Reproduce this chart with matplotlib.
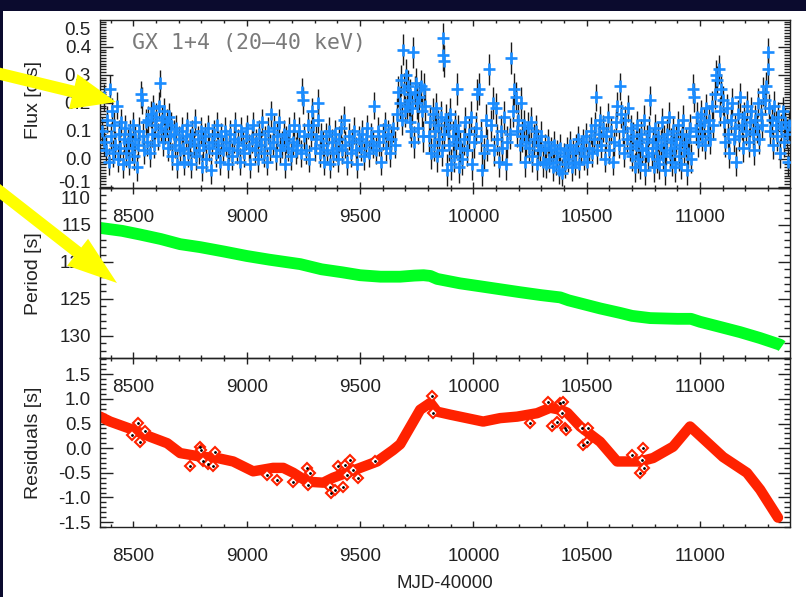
import matplotlib
matplotlib.use("Agg")
import matplotlib.pyplot as plt
import numpy as np
from matplotlib.patches import Polygon, Rectangle
from matplotlib.ticker import MultipleLocator, FixedLocator, FixedFormatter, FormatStrFormatter

plt.rcParams['font.family'] = ['Liberation Sans', 'DejaVu Sans']
plt.rcParams['axes.unicode_minus'] = False

# ---------------- data ----------------
segA_mjd = [8362, 8368, 8372, 8378, 8384, 8390, 8395, 8400, 8405, 8410, 8415, 8420, 8426, 8431, 8436, 8442, 8447, 8452, 8458, 8463, 8468, 8474, 8480, 8486, 8492, 8498, 8503, 8508, 8514, 8520, 8526, 8531, 8536, 8542, 8548, 8554, 8560]
segA_flux = [0.10, 0.06, 0.22, 0.03, 0.14, -0.01, 0.25, 0.08, 0.17, 0.02, 0.12, 0.05, 0.19, 0.00, 0.09, 0.04, 0.13, -0.02, 0.07, 0.11, 0.02, 0.06, -0.01, 0.09, 0.04, 0.12, 0.01, 0.07, -0.03, 0.05, 0.10, 0.23, 0.21, 0.08, 0.03, 0.13, 0.06]
segB_mjd = [8566, 8571, 8576, 8581, 8586, 8591, 8596, 8601, 8606, 8611, 8616, 8621, 8626, 8631, 8636, 8641, 8646, 8651, 8656, 8661, 8666, 8672, 8677, 8683, 8688, 8694, 8700, 8706]
segB_flux = [0.14, 0.02, 0.16, 0.09, 0.18, 0.05, 0.12, 0.15, 0.08, 0.19, 0.27, 0.11, 0.14, 0.06, 0.17, 0.10, 0.13, 0.04, 0.15, 0.08, 0.12, 0.01, 0.09, 0.05, 0.11, -0.02, 0.07, 0.03]
segC_mjd = [8712, 8718, 8724, 8730, 8736, 8742, 8748, 8754, 8760, 8766, 8772, 8778, 8784, 8790, 8796, 8802, 8808, 8815, 8822, 8828, 8835, 8842, 8848, 8855, 8862, 8868, 8875, 8882, 8888, 8895, 8902, 8908, 8915, 8922, 8928, 8935, 8942, 8948, 8955, 8962, 8968, 8975, 8982, 8988, 8995, 9002, 9008, 9015, 9022, 9028, 9035, 9042, 9048, 9055, 9062, 9068, 9075, 9082, 9088, 9095, 9102, 9108, 9115, 9122, 9128, 9135, 9142, 9148, 9155, 9162, 9168, 9175, 9182, 9188, 9195, 9202, 9208, 9215]
segC_flux = [0.10, 0.04, -0.01, 0.08, 0.12, 0.02, 0.06, -0.02, 0.09, 0.05, 0.13, 0.01, 0.07, 0.03, 0.10, -0.03, 0.05, 0.08, 0.00, 0.11, 0.04, -0.04, 0.06, 0.09, 0.02, 0.12, 0.05, -0.01, 0.08, 0.03, 0.10, 0.06, -0.02, 0.04, 0.09, 0.01, 0.07, 0.12, 0.03, 0.06, -0.01, 0.10, 0.05, 0.02, 0.08, 0.11, 0.04, -0.02, 0.07, 0.12, 0.03, 0.06, 0.00, 0.09, 0.05, 0.13, 0.02, 0.07, -0.01, 0.10, 0.04, 0.16, 0.06, 0.11, 0.01, 0.08, 0.13, 0.03, 0.05, 0.09, -0.02, 0.07, 0.04, 0.10, 0.01, 0.06, 0.12, 0.03]
segD_mjd = [9222, 9230, 9238, 9245, 9247, 9254, 9261, 9268, 9275, 9282, 9288, 9293, 9300, 9307, 9313, 9316, 9322, 9328]
segD_flux = [0.05, 0.10, 0.02, 0.24, 0.21, 0.08, 0.03, 0.12, 0.00, 0.09, 0.17, 0.12, 0.04, 0.07, 0.20, 0.14, 0.02, 0.08]
segE_mjd = [9335, 9342, 9348, 9355, 9362, 9368, 9375, 9382, 9388, 9395, 9402, 9408, 9415, 9422, 9428, 9435, 9442, 9450, 9458, 9465, 9472, 9480, 9488, 9495, 9502, 9510, 9518, 9525, 9532, 9540, 9548, 9555, 9562, 9570, 9578, 9585, 9592, 9600, 9608, 9615, 9622, 9630, 9638, 9645, 9652]
segE_flux = [0.05, -0.01, 0.08, 0.03, 0.10, -0.02, 0.06, 0.02, 0.09, 0.04, 0.00, 0.07, 0.11, 0.03, 0.14, 0.05, -0.01, 0.08, 0.02, 0.06, 0.10, 0.03, -0.02, 0.07, 0.04, 0.09, 0.01, 0.06, 0.11, 0.02, 0.08, 0.05, 0.19, 0.03, 0.10, 0.06, -0.01, 0.08, 0.12, 0.04, 0.09, 0.02, 0.07, 0.11, 0.05]
segF_mjd = [9662, 9668, 9674, 9680, 9686, 9690, 9694, 9698, 9702, 9706, 9710, 9714, 9718, 9722, 9726, 9730, 9734, 9738, 9742, 9747, 9752, 9757, 9762, 9767, 9772, 9777, 9782, 9787]
segF_flux = [0.16, 0.24, 0.20, 0.28, 0.14, 0.39, 0.25, 0.17, 0.30, 0.19, 0.26, 0.21, 0.13, 0.23, 0.10, 0.18, 0.38, 0.06, 0.24, 0.27, 0.20, 0.11, 0.22, 0.26, 0.17, 0.08, 0.25, 0.19]
segG_mjd = [9805, 9810, 9815, 9820, 9825, 9830, 9835, 9840, 9845, 9850, 9855, 9860, 9864, 9866, 9868, 9872, 9877, 9882, 9887, 9892, 9897, 9902, 9908, 9913, 9918, 9923, 9928, 9933, 9938, 9943]
segG_flux = [0.08, 0.13, 0.02, 0.16, 0.05, 0.10, 0.18, 0.01, 0.12, 0.07, 0.15, 0.03, 0.43, 0.37, 0.35, 0.09, 0.14, -0.04, 0.11, 0.05, 0.16, -0.02, 0.08, 0.01, 0.12, 0.06, 0.25, 0.10, -0.03, 0.04]
segH_mjd = [9950, 9958, 9965, 9972, 9980, 9988, 9995, 10002, 10010, 10018, 10025, 10032, 10038, 10045, 10055, 10062, 10070, 10078, 10085, 10092, 10098, 10105, 10112, 10120, 10127, 10134, 10142, 10149]
segH_flux = [0.00, 0.07, 0.13, 0.03, 0.09, 0.15, -0.02, 0.06, 0.11, 0.23, 0.25, 0.08, -0.04, 0.02, 0.14, 0.05, 0.32, 0.12, 0.20, 0.03, 0.18, 0.07, -0.01, 0.10, 0.04, 0.15, -0.02, 0.06]
segI_mjd = [10160, 10167, 10174, 10180, 10186, 10192, 10198, 10204, 10210, 10216, 10222, 10228, 10234, 10240, 10247, 10254, 10260, 10267, 10274, 10280, 10287, 10294, 10300, 10307]
segI_flux = [0.09, 0.36, 0.17, 0.25, 0.22, 0.10, 0.14, 0.05, 0.20, 0.08, 0.12, -0.01, 0.06, 0.11, 0.04, 0.13, 0.01, 0.07, 0.10, -0.02, 0.05, 0.03, 0.08, -0.01]
segJ_mjd = [10314, 10321, 10328, 10335, 10342, 10349, 10356, 10363, 10370, 10377, 10384, 10391, 10398, 10405, 10412, 10419, 10426, 10433, 10440, 10447, 10454, 10461, 10468, 10475, 10482, 10489, 10496, 10503, 10510, 10517, 10524, 10531, 10538, 10541, 10545, 10552]
segJ_flux = [0.04, -0.02, 0.06, 0.00, 0.03, -0.03, 0.05, -0.01, 0.02, -0.04, 0.04, -0.05, 0.01, -0.02, 0.03, 0.00, 0.05, -0.03, 0.02, -0.01, 0.04, 0.07, -0.02, 0.03, 0.06, 0.01, 0.08, -0.01, 0.04, 0.10, 0.02, 0.07, 0.12, 0.22, 0.03, 0.09]
segK_mjd = [10558, 10565, 10572, 10579, 10586, 10593, 10600, 10607, 10614, 10621, 10628, 10635, 10641, 10647, 10653, 10659, 10665, 10671, 10677, 10683, 10689, 10695]
segK_flux = [0.14, 0.05, 0.11, 0.00, 0.08, 0.15, 0.03, 0.10, -0.01, 0.06, 0.13, 0.19, 0.05, 0.26, 0.16, 0.10, 0.02, 0.14, 0.07, 0.18, 0.04, 0.11]
segL_mjd = [10701, 10706, 10711, 10716, 10721, 10726, 10731, 10736, 10741, 10746, 10751, 10756, 10761, 10766, 10771, 10776, 10781, 10786, 10791, 10796, 10801, 10806, 10811, 10816, 10821, 10826, 10831, 10836, 10841, 10846, 10851, 10856, 10861, 10866, 10871, 10876, 10881, 10886, 10891, 10896, 10901, 10906, 10911, 10916, 10921, 10926, 10931, 10936, 10941, 10946, 10951, 10956, 10961]
segL_flux = [0.01, 0.08, -0.03, 0.05, 0.12, 0.00, 0.06, -0.02, 0.09, 0.03, 0.14, -0.04, 0.04, 0.07, 0.01, 0.10, 0.21, 0.02, 0.06, -0.03, 0.11, 0.04, 0.00, 0.08, -0.02, 0.05, 0.13, 0.01, 0.07, -0.04, 0.03, 0.09, 0.15, 0.02, 0.06, -0.01, 0.10, 0.04, -0.03, 0.07, 0.12, 0.01, 0.05, -0.02, 0.09, 0.14, 0.03, 0.06, -0.04, 0.02, 0.08, 0.11, 0.00]
segM_mjd = [10968, 10974, 10980, 10986, 10992, 10998, 11004, 11010, 11016, 11022, 11028, 11034, 11040, 11046, 11052, 11058, 11064, 11070, 11076, 11082, 11088, 11094, 11100]
segM_flux = [0.25, 0.22, 0.10, 0.15, 0.06, 0.12, 0.16, 0.08, 0.13, 0.05, 0.18, 0.10, 0.14, 0.07, 0.19, 0.12, 0.23, 0.30, 0.28, 0.32, 0.17, 0.25, 0.21]
segN_mjd = [11106, 11112, 11118, 11124, 11130, 11136, 11142, 11148, 11154, 11160, 11166, 11172, 11178, 11184, 11190, 11196, 11202, 11208, 11214, 11220, 11226, 11232, 11238, 11244, 11250, 11256, 11262, 11268, 11274, 11280, 11286, 11292, 11298, 11302, 11306, 11310]
segN_flux = [0.13, 0.06, 0.18, 0.09, 0.02, 0.14, 0.20, 0.07, 0.11, -0.01, 0.16, 0.08, 0.22, 0.12, 0.04, 0.15, 0.10, 0.19, 0.06, 0.13, 0.17, 0.09, 0.03, 0.14, 0.11, 0.20, 0.07, 0.16, 0.12, 0.24, 0.21, 0.26, 0.38, 0.32, 0.18, 0.10]
segO_mjd = [11316, 11322, 11328, 11334, 11340, 11346, 11352, 11358, 11364, 11370, 11376, 11382, 11388, 11393]
segO_flux = [0.14, 0.05, 0.19, 0.12, 0.08, 0.15, 0.02, 0.11, 0.17, 0.06, 0.13, 0.09, -0.01, 0.12]

# flux uncertainty per epoch range
err_edges = [8350, 9660, 10310, 10700, 11400]
err_vals = [0.048, 0.056, 0.048, 0.052]

# spin period [s]
per_mjd = [8353, 8450, 8530, 8620, 8706, 8794, 8900, 9000, 9100, 9236, 9330, 9420, 9500, 9590, 9677, 9740, 9780, 9810, 9840, 9941, 10030, 10118, 10206, 10300, 10383, 10420, 10471, 10560, 10647, 10700, 10780, 10900, 10960, 11000, 11089, 11177, 11265, 11353, 11362]
per_val = [115.4, 115.8, 116.3, 116.9, 117.6, 118.0, 118.6, 119.2, 119.7, 120.3, 121.0, 121.4, 121.8, 122.0, 122.0, 121.85, 121.8, 121.9, 122.3, 122.9, 123.3, 123.7, 124.1, 124.5, 124.8, 125.2, 125.6, 126.3, 126.9, 127.3, 127.6, 127.7, 127.7, 128.1, 128.8, 129.5, 130.3, 131.2, 131.4]

# residuals [s]
res_mjd = [8353, 8397, 8500, 8574, 8649, 8706, 8794, 8870, 8940, 9028, 9116, 9161, 9205, 9267, 9337, 9381, 9500, 9575, 9645, 9677, 9721, 9765, 9810, 9840, 9898, 10043, 10118, 10193, 10281, 10339, 10383, 10414, 10471, 10559, 10634, 10736, 10793, 10881, 10956, 11102, 11207, 11265, 11344]
res_val = [0.64, 0.54, 0.37, 0.23, 0.10, -0.10, -0.17, -0.20, -0.27, -0.47, -0.40, -0.40, -0.50, -0.68, -0.70, -0.60, -0.40, -0.27, -0.04, 0.08, 0.43, 0.78, 0.92, 0.74, 0.68, 0.54, 0.61, 0.64, 0.71, 0.82, 0.78, 0.72, 0.44, 0.13, -0.27, -0.27, -0.20, 0.03, 0.44, -0.18, -0.50, -0.84, -1.41]

# individual residual points (diamonds)
dia_mjd = [8494, 8521, 8530, 8552, 8750, 8794, 8796, 8808, 8830, 8852, 8861, 9090, 9134, 9205, 9267, 9271, 9280, 9368, 9370, 9390, 9403, 9425, 9434, 9443, 9456, 9470, 9492, 9567, 9818, 9823, 10251, 10331, 10348, 10370, 10383, 10392, 10396, 10405, 10410, 10480, 10485, 10502, 10507, 10701, 10736, 10745, 10749, 10752]
dia_val = [0.27, 0.51, 0.13, 0.34, -0.37, 0.03, -0.04, -0.27, -0.33, -0.37, -0.07, -0.54, -0.64, -0.68, -0.41, -0.75, -0.51, -0.78, -0.91, -0.85, -0.37, -0.78, -0.34, -0.54, -0.24, -0.44, -0.61, -0.27, 1.05, 0.71, 0.51, 0.93, 0.44, 0.54, 0.92, 0.72, 0.94, 0.40, 0.37, 0.40, 0.07, 0.13, 0.40, -0.14, -0.51, -0.24, 0.00, -0.41]

title_text = "GX 1+4 (20\u201340 keV)"
flux_label = "Flux [c/s]"
period_label = "Period [s]"
res_label = "Residuals [s]"
x_label = "MJD-40000"

# ---------------- assemble ----------------
segs_m = [segA_mjd, segB_mjd, segC_mjd, segD_mjd, segE_mjd, segF_mjd, segG_mjd, segH_mjd,
          segI_mjd, segJ_mjd, segK_mjd, segL_mjd, segM_mjd, segN_mjd, segO_mjd]
segs_f = [segA_flux, segB_flux, segC_flux, segD_flux, segE_flux, segF_flux, segG_flux, segH_flux,
          segI_flux, segJ_flux, segK_flux, segL_flux, segM_flux, segN_flux, segO_flux]
flux_mjd, flux_val = [], []
for m, f in zip(segs_m, segs_f):
    n = min(len(m), len(f))
    flux_mjd += m[:n]
    flux_val += f[:n]
flux_mjd = np.array(flux_mjd, float)
flux_val = np.array(flux_val, float)
idx = np.clip(np.searchsorted(err_edges, flux_mjd, side='right') - 1, 0, len(err_vals) - 1)
flux_err = np.array(err_vals)[idx]

# ---------------- figure ----------------
W, H = 806, 597
fig = plt.figure(figsize=(W / 100, H / 100), dpi=100, facecolor='#0b0b2e')
fig.add_artist(Rectangle((3 / W, 0), 1 - 3 / W, 1 - 11 / H, transform=fig.transFigure,
                         facecolor='white', edgecolor='none', zorder=-10))

L, R = 99.5 / W, 790 / W
def rect(top, bot):
    return [L, 1 - bot / H, R - L, (bot - top) / H]

ax1 = fig.add_axes(rect(20, 188))
ax2 = fig.add_axes(rect(188, 358))
ax3 = fig.add_axes(rect(358, 527))
axes = [ax1, ax2, ax3]

TXT = '#222222'
for ax in axes:
    ax.set_facecolor('none')
    ax.set_xlim(8350, 11397)
    ax.xaxis.set_major_locator(MultipleLocator(500))
    ax.xaxis.set_minor_locator(MultipleLocator(100))
    ax.tick_params(axis='x', which='both', direction='in', top=True, bottom=True,
                   labelsize=13.6, pad=15.3, colors='#222222', labelcolor=TXT, width=1.0)
    ax.tick_params(axis='x', which='major', length=4.5)
    ax.tick_params(axis='x', which='minor', length=2.5)
    ax.tick_params(axis='y', which='both', direction='in', left=True, right=True,
                   labelsize=13.6, pad=6.1, colors='#222222', labelcolor=TXT, width=1.0)
    ax.tick_params(axis='y', which='major', length=9)
    ax.tick_params(axis='y', which='minor', length=4.5)
    for s in ax.spines.values():
        s.set_linewidth(1.0)
        s.set_color('#222222')

# panel 1: flux
ax1.errorbar(flux_mjd, flux_val, yerr=flux_err, fmt='none', ecolor='#1a1a1a',
             elinewidth=1.0, zorder=2)
ax1.plot(flux_mjd, flux_val, '+', color='#1a8cff', ms=8, mew=1.9, zorder=3)
ax1.set_ylim(-0.104, 0.496)
ax1.yaxis.set_major_locator(FixedLocator([-0.1, 0.0, 0.1, 0.2, 0.3, 0.4, 0.5]))
ax1.yaxis.set_major_formatter(FixedFormatter(['', '0.0', '0.1', '0.2', '0.3', '0.4', '']))
ax1.yaxis.set_minor_locator(MultipleLocator(0.01))
ax1.tick_params(axis='y', which='minor', length=4)
yt = ax1.get_yaxis_transform()
ax1.text(-9 / 690.5, 0.457, '0.5', transform=yt, ha='right', va='center', fontsize=13.6, color=TXT)
ax1.text(-9 / 690.5, -0.089, '-0.1', transform=yt, ha='right', va='center', fontsize=13.6, color=TXT)
ax1.text((132 - 99.5) / 690.5, (188 - 43) / 168, title_text, transform=ax1.transAxes,
         ha='left', va='center', fontsize=15.5, color='#7a7a7a', family='DejaVu Sans Mono')

# panel 2: period
ax2.plot(per_mjd, per_val, color='#00ff22', lw=8.5, solid_capstyle='butt', zorder=2)
ax2.set_ylim(133, 110)
ax2.yaxis.set_major_locator(FixedLocator([110, 115, 120, 125, 130]))
ax2.yaxis.set_major_formatter(FixedFormatter(['', '115', '120', '125', '130']))
ax2.yaxis.set_minor_locator(MultipleLocator(1))
yt2 = ax2.get_yaxis_transform()
ax2.text(-9 / 690.5, 111.5, '110', transform=yt2, ha='right', va='center', fontsize=13.6, color=TXT)

# panel 3: residuals
ax3.plot(res_mjd, res_val, color='#ff2200', lw=7.5, solid_capstyle='round',
         solid_joinstyle='round', zorder=2)
ax3.plot(dia_mjd, dia_val, 'D', mfc='white', mec='#ff2200', ms=5.5, mew=1.5, zorder=3)
ax3.plot(dia_mjd, dia_val, '.', color='black', ms=2, zorder=4)
ax3.set_ylim(-1.6, 1.83)
ax3.yaxis.set_major_locator(MultipleLocator(0.5))
ax3.yaxis.set_minor_locator(MultipleLocator(0.1))
ax3.yaxis.set_major_formatter(FormatStrFormatter('%.1f'))

# axis titles
fig.text(33 / W, 1 - 100 / H, flux_label, rotation=90, ha='center', va='center', fontsize=14, color=TXT)
fig.text(33 / W, 1 - 274 / H, period_label, rotation=90, ha='center', va='center', fontsize=14, color=TXT)
fig.text(33 / W, 1 - 443 / H, res_label, rotation=90, ha='center', va='center', fontsize=14, color=TXT)
fig.text(445 / W, 1 - 583 / H, x_label, ha='center', va='center', fontsize=13.4, color=TXT)

# slide arrows (overlay annotations)
def arrow_poly(tail, tip, w, hw, hl):
    t = np.array(tail, float); p = np.array(tip, float)
    u = (p - t) / np.linalg.norm(p - t)
    n = np.array([-u[1], u[0]])
    b = p - u * hl
    pts = [t + n * w / 2, b + n * w / 2, b + n * hw / 2, p, b - n * hw / 2, b - n * w / 2, t - n * w / 2]
    return [(q[0] / W, 1 - q[1] / H) for q in pts]

for tail, tip, hw, hl in [((-20, 69), (116, 102), 36, 44), ((-20, 176), (117, 283), 34, 50)]:
    fig.add_artist(Polygon(arrow_poly(tail, tip, 12, hw, hl), closed=True, transform=fig.transFigure,
                           facecolor='#ffff00', edgecolor='none', zorder=20))

fig.savefig('out.png', dpi=100, facecolor=fig.get_facecolor())
